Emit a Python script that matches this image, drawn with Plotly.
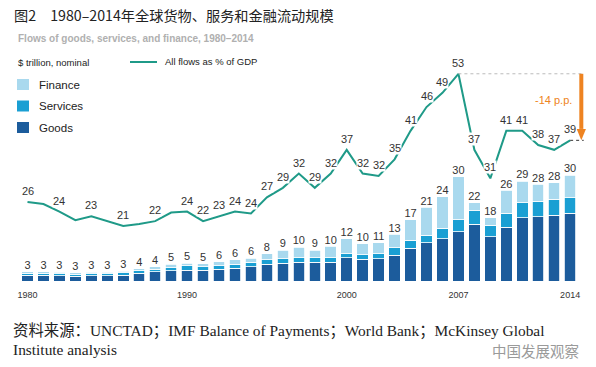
import plotly.graph_objects as go

# ---------------- data ----------------
years = list(range(1980, 2015))
goods = [1.6, 1.6, 1.5, 1.4, 1.5, 1.5, 1.7, 2.2, 2.7, 2.9,
         3.1, 3.1, 3.4, 3.6, 4.1, 4.8, 5.1, 5.4, 5.4, 5.4,
         6.6, 6.2, 6.4, 7.3, 9.4, 10.9, 12.1, 14.0, 16.2, 12.6,
         15.4, 18.1, 18.3, 18.8, 19.3]
services = [0.6, 0.6, 0.6, 0.5, 0.6, 0.6, 0.6, 0.7, 0.6, 0.9,
            1.2, 1.0, 1.0, 1.2, 1.2, 1.3, 1.3, 1.3, 1.2, 1.3,
            1.2, 1.3, 1.4, 2.2, 2.2, 2.2, 3.0, 3.5, 3.8, 3.3,
            3.9, 4.3, 4.5, 4.5, 4.5]
finance = [0.4, 0.4, 0.4, 0.4, 0.4, 0.4, 0.5, 0.6, 0.7, 1.0,
           0.8, 0.8, 1.1, 1.2, 1.2, 1.7, 2.4, 3.0, 2.2, 3.2,
           4.2, 3.2, 3.1, 3.8, 5.9, 7.9, 8.9, 12.2, 2.3, 2.2,
           6.6, 6.1, 4.8, 4.7, 6.4]
total_labels = ["3", "3", "3", "3", "3", "3", "3", "4", "4", "5",
                "5", "5", "6", "6", "6", "8", "9", "10", "9", "10",
                "12", "10", "11", "13", "17", "21", "24", "30", "22", "18",
                "26", "29", "28", "28", "30"]
gdp_pct = [26, 25.6, 24, 22.2, 23, 22, 21, 21.4, 22, 23.8,
           24, 22, 23, 24, 23.6, 27, 29, 32, 29, 32,
           37, 32, 31.5, 35, 41, 46, 49, 53, 37, 31,
           41, 41, 38, 37, 39]
gdp_labels = ["26", "", "24", "", "23", "", "21", "", "22", "",
              "24", "22", "23", "24", "24", "27", "29", "32", "29", "32",
              "37", "32", "32", "35", "41", "46", "49", "53", "37", "31",
              "41", "41", "38", "37", "39"]
tick_years = [1980, 1990, 2000, 2007, 2014]
peak_year, end_year = 2007, 2014
peak_val, end_val = 53, 39
arrow_x = 2014.7

# ---------------- style ----------------
C_GOODS = "#1c5c9c"
C_SERV = "#1a9fd3"
C_FIN = "#a9d9ee"
C_LINE = "#1f9a88"
C_ORANGE = "#ee8321"
FONT = "Liberation Sans, Arial, sans-serif"

L, R, T, B = 15, 5, 60, 86
W_FIG, H_FIG = 596, 367
PW, PH = W_FIG - L - R, H_FIG - T - B


def px(x):
    return (x - L) / PW


def py(y):
    return (T + PH - y) / PH


fig = go.Figure()
bar_line = dict(color="white", width=0.8)
fig.add_bar(x=years, y=goods, marker=dict(color=C_GOODS, line=bar_line), width=0.72, name="Goods")
fig.add_bar(x=years, y=services, marker=dict(color=C_SERV, line=bar_line), width=0.72, name="Services")
fig.add_bar(x=years, y=finance, marker=dict(color=C_FIN, line=bar_line), width=0.72, name="Finance")

totals = [g + s + f for g, s, f in zip(goods, services, finance)]
fig.add_scatter(x=years, y=totals, mode="text", text=total_labels, textposition="top center",
                textfont=dict(family=FONT, size=11, color="#333333"), hoverinfo="skip")

fig.add_scatter(x=years, y=gdp_pct, yaxis="y2", mode="lines",
                line=dict(color=C_LINE, width=2), name="All flows as % of GDP")

annotations = []
for yr, v, lab in zip(years, gdp_pct, gdp_labels):
    if lab:
        annotations.append(dict(x=yr, y=v, xref="x", yref="y2", text=lab, showarrow=False,
                                yshift=11, bgcolor="white", borderpad=0,
                                font=dict(family=FONT, size=11, color="#333333")))

# peak reference dotted line, dashed end marker and orange drop arrow
head_h = 2.4     # in y2 units
head_w = 0.29    # in year units (half width)
shapes = [
    dict(type="line", xref="x", yref="y2", x0=peak_year, x1=arrow_x + 0.1, y0=peak_val, y1=peak_val,
         line=dict(color="#bbbbbb", width=1, dash="dot")),
    dict(type="line", xref="x", yref="y2", x0=end_year, x1=arrow_x + 0.15, y0=end_val, y1=end_val,
         line=dict(color="#333333", width=1, dash="dot")),
    dict(type="line", xref="x", yref="y2", x0=arrow_x, x1=arrow_x, y0=peak_val, y1=end_val + head_h,
         line=dict(color=C_ORANGE, width=4)),
    dict(type="path", xref="x", yref="y2",
         path=f"M {arrow_x - head_w},{end_val + head_h} L {arrow_x + head_w},{end_val + head_h} "
              f"L {arrow_x},{end_val} Z",
         fillcolor=C_ORANGE, line=dict(width=0)),
]
annotations.append(dict(x=px(574), y=py(100), xref="paper", yref="paper", xanchor="right",
                        yanchor="middle", text="-14 p.p.", showarrow=False,
                        font=dict(family=FONT, size=11, color=C_ORANGE)))

# titles
annotations.append(dict(x=px(12), y=py(15), xref="paper", yref="paper", xanchor="left", yanchor="middle",
                        text="图2　1980–2014年全球货物、服务和金融流动规模", showarrow=False,
                        font=dict(family="Noto Sans CJK SC, sans-serif", size=14.2, color="#222222")))
annotations.append(dict(x=px(16), y=py(39), xref="paper", yref="paper", xanchor="left", yanchor="middle",
                        text="<b>Flows of goods, services, and finance, 1980–2014</b>", showarrow=False,
                        font=dict(family=FONT, size=10, color="#b0b0b0")))
annotations.append(dict(x=px(16), y=py(63), xref="paper", yref="paper", xanchor="left", yanchor="middle",
                        text="$ trillion, nominal", showarrow=False,
                        font=dict(family=FONT, size=9.5, color="#222222")))
# legend
shapes.append(dict(type="line", xref="paper", yref="paper", x0=px(130), x1=px(157), y0=py(62), y1=py(62),
                   line=dict(color=C_LINE, width=2)))
annotations.append(dict(x=px(163), y=py(62), xref="paper", yref="paper", xanchor="left", yanchor="middle",
                        text="All flows as % of GDP", showarrow=False,
                        font=dict(family=FONT, size=9.5, color="#222222")))
for name, col, yc in [("Finance", C_FIN, 84.5), ("Services", C_SERV, 106), ("Goods", C_GOODS, 127.5)]:
    shapes.append(dict(type="rect", xref="paper", yref="paper", x0=px(17), x1=px(29),
                       y0=py(yc - 5.5), y1=py(yc + 5.5), line=dict(width=0), fillcolor=col))
    annotations.append(dict(x=px(37), y=py(yc), xref="paper", yref="paper", xanchor="left",
                            yanchor="middle", text=name, showarrow=False,
                            font=dict(family=FONT, size=11.5, color="#222222")))

# source and watermark
SERIF = "Liberation Serif, Times New Roman, Noto Sans CJK SC, serif"
annotations.append(dict(x=px(11), y=py(331), xref="paper", yref="paper", xanchor="left", yanchor="middle",
                        text="资料来源：UNCTAD；IMF Balance of Payments；World Bank；McKinsey Global",
                        showarrow=False, font=dict(family=SERIF, size=15.4, color="#222222")))
annotations.append(dict(x=px(11), y=py(349), xref="paper", yref="paper", xanchor="left", yanchor="middle",
                        text="Institute analysis", showarrow=False,
                        font=dict(family=SERIF, size=15.4, color="#222222")))
annotations.append(dict(x=px(581), y=py(350), xref="paper", yref="paper", xanchor="right", yanchor="middle",
                        text="中国发展观察", showarrow=False,
                        font=dict(family="Noto Sans CJK SC, sans-serif", size=14.5, color="#9a9a9a")))

fig.update_layout(
    width=W_FIG, height=H_FIG,
    margin=dict(l=L, r=R, t=T, b=B),
    paper_bgcolor="white", plot_bgcolor="white",
    barmode="stack", showlegend=False,
    xaxis=dict(range=[1979.217, 2015.307], tickvals=tick_years, ticktext=[str(y) for y in tick_years],
               ticks="outside", ticklen=5, tickcolor="rgba(0,0,0,0)", showgrid=False, zeroline=False,
               showline=False, tickfont=dict(family=FONT, size=9, color="#333333")),
    yaxis=dict(range=[0, 63.1], visible=False, showgrid=False),
    yaxis2=dict(range=[9.4, 55.9], overlaying="y", visible=False, showgrid=False),
    annotations=annotations, shapes=shapes,
)

fig.write_html("out.html", config={"displayModeBar": False},
               post_script="document.body.style.margin='0';")
